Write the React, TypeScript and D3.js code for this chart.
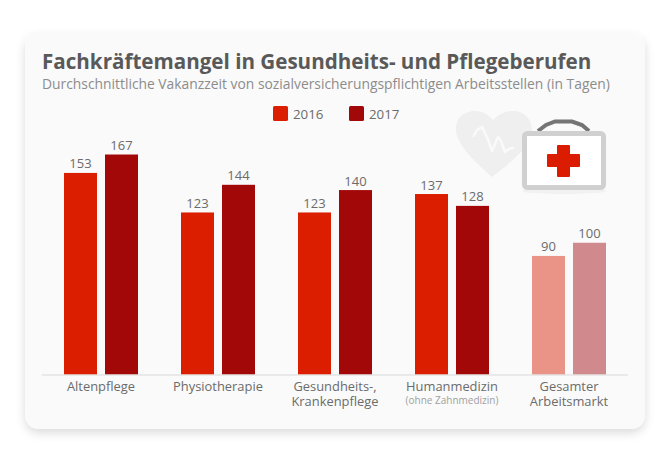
import * as d3 from "d3";

const categories = ["Altenpflege", "Physiotherapie", "Gesundheits-, Krankenpflege", "Humanmedizin", "Gesamter Arbeitsmarkt"];
const years = ["2016", "2017"];
const values2016 = [153, 123, 123, 137, 90];
const values2017 = [167, 144, 140, 128, 100];
const categoryLines = [["Altenpflege"], ["Physiotherapie"], ["Gesundheits-,", "Krankenpflege"], ["Humanmedizin"], ["Gesamter", "Arbeitsmarkt"]];
const categoryNotes = ["", "", "", "(ohne Zahnmedizin)", ""];

const title = "Fachkräftemangel in Gesundheits- und Pflegeberufen";
const subtitle = "Durchschnittliche Vakanzzeit von sozialversicherungspflichtigen Arbeitsstellen (in Tagen)";

const width = 670;
const height = 460;
const baseline = 374.5;
const font = "'Open Sans', sans-serif";
const textColor = "#6b6b6b";

const colors = ["#dc1e00", "#a30808"];
const fadedColors = ["#ea9488", "#d08a8e"];

export default function App() {
    const x = d3.scaleBand<string>().domain(categories).range([42.5, 627.5]);
    const inner = d3.scaleBand<string>().domain(years).range([0, 74]).paddingInner(8 / 41);
    const y = d3.scaleLinear([0, 167], [baseline, 154.5]);
    const series = [values2016, values2017];

    const heart = "M 492 177 C 480 166 458 148 456 131 C 455 118 464 111 475 111 C 483 111 489 115 493 120 C 498 115 505 111 513 111 C 525 111 533 120 532 133 C 530 148 505 167 492 177 Z";
    const pulse = "M 473 137 L 477 130 L 482 127 L 487 137 L 492 151 L 498 137 L 501 141 L 505 152 L 509 149 L 514 148";
    const handle = "M 538 131 L 546 125 L 555 121.5 L 572 121.5 L 582 125 L 589 131";
    const cross = "M 558 146 L 569 146 L 569 155 L 579 155 L 579 166 L 569 166 L 569 176 L 558 176 L 558 166 L 548 166 L 548 155 L 558 155 Z";

    return (
        <svg width={width} height={height} style={{ position: "absolute", left: 0, top: 0, background: "#fff" }}>
            <defs>
                <filter id="cardShadow" x="-10%" y="-10%" width="120%" height="120%">
                    <feDropShadow dx="0" dy="4" stdDeviation="5" floodColor="#000" floodOpacity="0.14" />
                </filter>
                <filter id="soft" x="-10%" y="-10%" width="120%" height="120%">
                    <feGaussianBlur stdDeviation="0.5" />
                </filter>
            </defs>

            <rect x={25} y={33} width={620} height={396} rx={14} fill="#fafafa" filter="url(#cardShadow)" />

            <text x={42} y={69} fontFamily={font} fontSize={20.6} fontWeight={700} fill="#595959">{title}</text>
            <text x={42} y={89} fontFamily={font} fontSize={13.85} fill="#8c8c8c">{subtitle}</text>

            {/* Legend */}
            {years.map((year, i) => (
                <g key={year} transform={`translate(${273 + i * 76},106)`}>
                    <rect width={15} height={15} rx={1.5} fill={colors[i]} />
                    <text x={20} y={12.5} fontFamily={font} fontSize={13.3} fill={textColor}>{year}</text>
                </g>
            ))}

            {/* Illustration */}
            <g filter="url(#soft)">
                <path d={heart} fill="#efefef" />
                <path d={pulse} fill="none" stroke="#fafafa" strokeWidth={2.5} strokeLinejoin="round" />
                <ellipse cx={564} cy={191} rx={42} ry={3} fill="#f1f1f1" />
                <path d={handle} fill="none" stroke="#757575" strokeWidth={4} />
                <rect x={524.5} y={133.5} width={79} height={54} rx={3} fill="#fff" stroke="#d0d0d0" strokeWidth={5} />
                <path d={cross} fill="#dc1e00" stroke="#dc1e00" strokeWidth={2} strokeLinejoin="round" />
            </g>

            {/* Bars */}
            {categories.map((cat, c) => (
                <g key={cat} transform={`translate(${(x(cat) as number) + x.bandwidth() / 2 - 37},0)`}>
                    {years.map((year, i) => {
                        const v = series[i][c];
                        const bx = inner(year) as number;
                        return (
                            <g key={year}>
                                <rect
                                    x={bx}
                                    y={y(v)}
                                    width={inner.bandwidth()}
                                    height={baseline - y(v)}
                                    fill={c === 4 ? fadedColors[i] : colors[i]}
                                />
                                <text
                                    x={bx + inner.bandwidth() / 2}
                                    y={y(v) - 4.5}
                                    textAnchor="middle"
                                    fontFamily={font}
                                    fontSize={13}
                                    fill={textColor}
                                >
                                    {v}
                                </text>
                            </g>
                        );
                    })}
                </g>
            ))}

            <line x1={42} x2={628} y1={baseline + 0.5} y2={baseline + 0.5} stroke="#d9d9d9" strokeWidth={1} />

            {/* Category labels */}
            {categories.map((cat, c) => (
                <text
                    key={cat}
                    x={(x(cat) as number) + x.bandwidth() / 2}
                    textAnchor="middle"
                    fontFamily={font}
                    fontSize={12.9}
                    fill={textColor}
                >
                    {categoryLines[c].map((line, i) => (
                        <tspan key={line} x={(x(cat) as number) + x.bandwidth() / 2} y={391 + i * 14.5}>{line}</tspan>
                    ))}
                    {categoryNotes[c] && (
                        <tspan x={(x(cat) as number) + x.bandwidth() / 2} y={404} fontSize={10} fill="#a0a0a0">{categoryNotes[c]}</tspan>
                    )}
                </text>
            ))}
        </svg>
    );
}
